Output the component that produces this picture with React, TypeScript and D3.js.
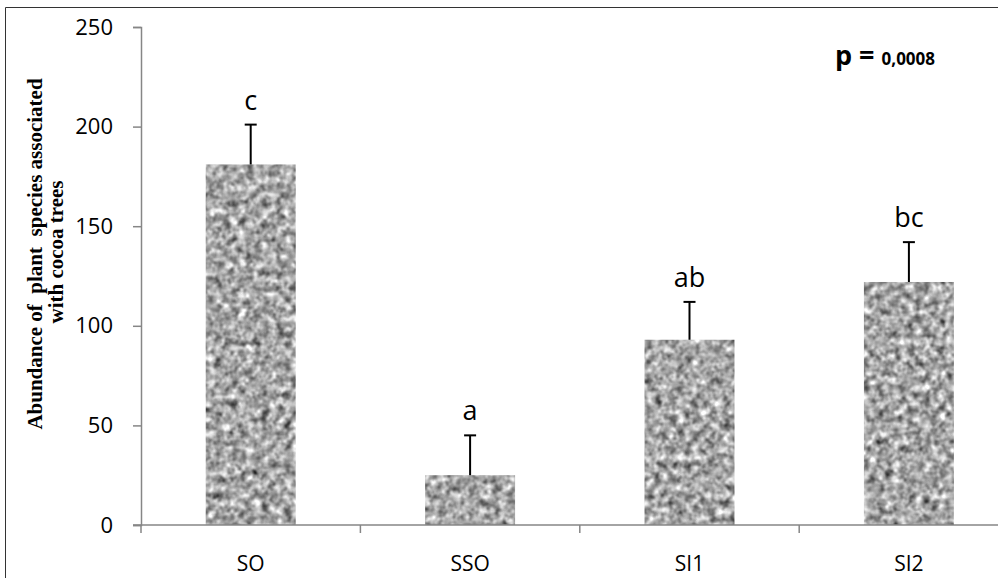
import { useEffect, useRef } from 'react';
import * as d3 from 'd3';

// data
const categories = ['SO', 'SSO', 'SI1', 'SI2'];
const means = [181, 25, 93, 122];
const errors = [20, 20, 19, 20];
const letters = ['c', 'a', 'ab', 'bc'];
const yTicks = [0, 50, 100, 150, 200, 250];

export default function App() {
  const ref = useRef<SVGSVGElement>(null);

  useEffect(() => {
    if (!ref.current) return;
    const svg = d3.select(ref.current);
    svg.selectAll('*').remove();

    const W = 998;
    const H = 578;
    const left = 141;
    const bottom = 525;
    const top = 27;
    const step = 219.4;
    const font = "'Open Sans', 'Liberation Sans', sans-serif";

    // granite-like fill for the bars
    const defs = svg.append('defs');
    const filter = defs.append('filter')
      .attr('id', 'grain')
      .attr('x', 0).attr('y', 0).attr('width', 1).attr('height', 1)
      .attr('color-interpolation-filters', 'sRGB');
    filter.append('feTurbulence')
      .attr('type', 'fractalNoise')
      .attr('baseFrequency', 0.13)
      .attr('numOctaves', 2)
      .attr('seed', 7)
      .attr('result', 'noise');
    filter.append('feColorMatrix')
      .attr('in', 'noise')
      .attr('type', 'matrix')
      .attr('values', '0.34 0.33 0.33 0 0  0.34 0.33 0.33 0 0  0.34 0.33 0.33 0 0  0 0 0 0 1')
      .attr('result', 'gray');
    const ct = filter.append('feComponentTransfer').attr('in', 'gray').attr('result', 'contrast');
    ['feFuncR', 'feFuncG', 'feFuncB'].forEach(f => {
      ct.append(f).attr('type', 'linear').attr('slope', 1.9).attr('intercept', -0.3);
    });
    filter.append('feComposite')
      .attr('in', 'contrast')
      .attr('in2', 'SourceAlpha')
      .attr('operator', 'in');

    // frame (cropped on the right)
    svg.append('path')
      .attr('d', `M5.5,${H}V7.5H${W}`)
      .attr('fill', 'none')
      .attr('stroke', '#333')
      .attr('stroke-width', 1);

    const x = d3.scaleBand<string>()
      .domain(categories)
      .range([left, left + step * categories.length])
      .paddingInner(0.59)
      .paddingOuter(0.295);

    const y = d3.scaleLinear().domain([0, 250]).range([bottom, top]);

    const axisColor = '#868686';

    // y axis
    const yAxis = svg.append('g')
      .attr('transform', `translate(${left},0)`)
      .call(d3.axisLeft(y).tickValues(yTicks).tickSize(8).tickPadding(20));
    yAxis.select('.domain').attr('stroke', axisColor).attr('stroke-width', 1.5);
    yAxis.selectAll('.tick line').attr('stroke', axisColor).attr('stroke-width', 1.5);
    yAxis.selectAll('.tick text')
      .attr('fill', '#000')
      .style('font-family', font)
      .style('font-size', '22px');

    // bars
    const idx = d3.range(categories.length);
    svg.append('g')
      .selectAll('rect')
      .data(idx)
      .enter()
      .append('rect')
      .attr('x', i => x(categories[i])!)
      .attr('y', i => y(means[i]))
      .attr('width', x.bandwidth())
      .attr('height', i => bottom - y(means[i]))
      .attr('fill', '#999')
      .attr('filter', 'url(#grain)');

    // x axis: slot boundaries as ticks
    const bounds = d3.range(categories.length + 1).map(i => left + i * step);
    svg.append('line')
      .attr('x1', left - 8).attr('x2', W + 40)
      .attr('y1', bottom).attr('y2', bottom)
      .attr('stroke', axisColor).attr('stroke-width', 1.5);
    svg.append('g')
      .selectAll('line')
      .data(bounds)
      .enter()
      .append('line')
      .attr('x1', d => d).attr('x2', d => d)
      .attr('y1', bottom).attr('y2', bottom + 8)
      .attr('stroke', axisColor).attr('stroke-width', 1.5);

    svg.append('g')
      .selectAll('text')
      .data(categories)
      .enter()
      .append('text')
      .attr('x', d => x(d)! + x.bandwidth() / 2)
      .attr('y', 571)
      .attr('text-anchor', 'middle')
      .style('font-family', font)
      .style('font-size', '21px')
      .text(d => d);

    // error bars
    const eb = svg.append('g').selectAll('g').data(idx).enter().append('g');
    const cx = (i: number) => x(categories[i])! + x.bandwidth() / 2;
    eb.append('line')
      .attr('x1', cx).attr('x2', cx)
      .attr('y1', i => y(means[i]))
      .attr('y2', i => y(means[i] + errors[i]))
      .attr('stroke', '#000').attr('stroke-width', 2);
    eb.append('line')
      .attr('x1', i => cx(i) - 6).attr('x2', i => cx(i) + 6)
      .attr('y1', i => y(means[i] + errors[i]))
      .attr('y2', i => y(means[i] + errors[i]))
      .attr('stroke', '#000').attr('stroke-width', 2);

    // significance letters
    svg.append('g')
      .selectAll('text')
      .data(idx)
      .enter()
      .append('text')
      .attr('x', cx)
      .attr('y', i => y(means[i] + errors[i]) - 15)
      .attr('text-anchor', 'middle')
      .style('font-family', font)
      .style('font-size', '27px')
      .text(i => letters[i]);

    // p value
    const p = svg.append('text')
      .attr('x', 835)
      .attr('y', 65)
      .style('font-family', font)
      .style('font-weight', 'bold');
    p.append('tspan').style('font-size', '27px').text('p = ');
    p.append('tspan').style('font-size', '17px').text('0,0008');

    // y axis title
    const title = svg.append('g')
      .attr('transform', 'rotate(-90)')
      .style('font-family', "'Liberation Serif', 'Times New Roman', serif")
      .style('font-weight', 'bold')
      .style('font-size', '21px')
      .attr('text-anchor', 'middle');
    title.append('text')
      .attr('x', -254).attr('y', 42)
      .attr('xml:space', 'preserve')
      .text('Abundance of  plant  species associated');
    title.append('text')
      .attr('x', -252).attr('y', 63)
      .text('with cocoa trees');
  }, []);

  return (
    <svg
      ref={ref}
      width={998}
      height={578}
      style={{ position: 'absolute', left: 0, top: 0, background: '#fff' }}
    />
  );
}
